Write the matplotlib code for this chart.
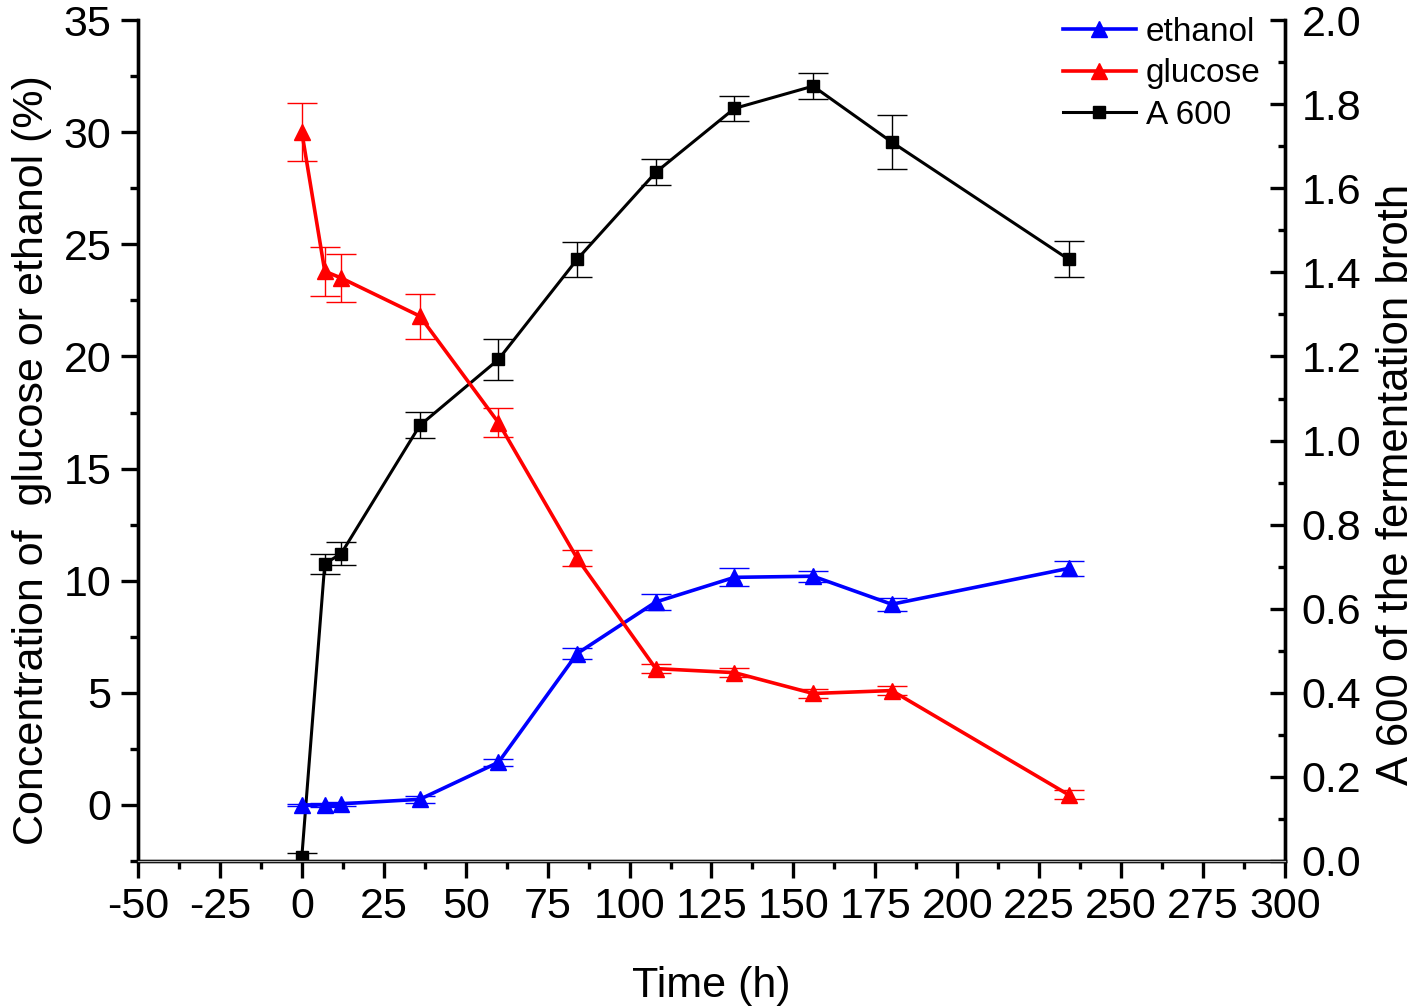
import matplotlib.pyplot as plt
from matplotlib.lines import Line2D
from matplotlib.ticker import MultipleLocator

plt.rcParams['font.family'] = ['Liberation Sans', 'DejaVu Sans']
plt.rcParams['axes.unicode_minus'] = False

# sampling times (h)
time = [0, 7, 12, 36, 60, 84, 108, 132, 156, 180, 234]

# concentration (%)
ethanol = [0.0, 0.0, 0.05, 0.25, 1.9, 6.75, 9.05, 10.15, 10.2, 8.95, 10.55]
ethanol_err = [0.05, 0.1, 0.1, 0.15, 0.15, 0.25, 0.35, 0.4, 0.25, 0.3, 0.33]
glucose = [30.0, 23.8, 23.5, 21.8, 17.05, 11.0, 6.08, 5.9, 4.97, 5.1, 0.45]
glucose_err = [1.3, 1.1, 1.05, 1.0, 0.65, 0.35, 0.2, 0.2, 0.2, 0.2, 0.2]

# A600 of the broth
a600 = [0.01, 0.707, 0.731, 1.036, 1.193, 1.431, 1.638, 1.79, 1.843, 1.71, 1.431]
a600_err = [0.01, 0.024, 0.027, 0.031, 0.048, 0.042, 0.031, 0.03, 0.031, 0.065, 0.043]

fig = plt.figure(figsize=(14.18, 10.07), dpi=100)
ax = fig.add_axes([0.0973, 0.145, 0.8089, 0.835])
ax2 = ax.twinx()
# keep the concentration curves above the A600 curve
ax.set_zorder(ax2.get_zorder() + 1)
ax.patch.set_visible(False)

ax2.errorbar(time, a600, yerr=a600_err, color='black', lw=2.2, marker='s', ms=8,
             ecolor='black', elinewidth=1.0, capsize=11, capthick=1.0)
ax.errorbar(time, ethanol, yerr=ethanol_err, color='#0000ff', lw=2.6, marker='^', ms=11,
            ecolor='#0000ff', elinewidth=1.0, capsize=11, capthick=1.0)
ax.errorbar(time, glucose, yerr=glucose_err, color='#ff0000', lw=2.6, marker='^', ms=11,
            ecolor='#ff0000', elinewidth=1.0, capsize=11, capthick=1.0)

ax.set_xlim(-50, 300)
ax.set_ylim(-2.5, 35)
ax2.set_ylim(0, 2.0)

ax.xaxis.set_major_locator(MultipleLocator(25))
ax.xaxis.set_minor_locator(MultipleLocator(12.5))
ax.yaxis.set_major_locator(MultipleLocator(5))
ax.yaxis.set_minor_locator(MultipleLocator(2.5))
ax2.yaxis.set_major_locator(MultipleLocator(0.2))
ax2.yaxis.set_minor_locator(MultipleLocator(0.1))
ax2.yaxis.set_major_formatter(plt.FormatStrFormatter('%.1f'))

for a in (ax, ax2):
    a.spines['top'].set_visible(False)
    for s in ('left', 'right', 'bottom'):
        a.spines[s].set_linewidth(2.4)

ax.tick_params(axis='both', which='major', direction='out', length=12, width=2.4,
               labelsize=31, pad=7)
ax.tick_params(axis='both', which='minor', direction='out', length=6, width=2.4)
ax.tick_params(axis='y', right=False)
ax2.tick_params(axis='y', which='major', direction='in', length=11, width=2.4,
                labelsize=31, pad=12)
ax2.tick_params(axis='y', which='minor', direction='in', length=5, width=2.4)

# thin grey line along the bottom frame
ax.axhline(-2.5, color='#b0b0b0', lw=0.9, zorder=5, clip_on=False)

ax.set_xlabel('Time (h)', fontsize=31, labelpad=28)
ax.set_ylabel('Concentration of  glucose or ethanol (%)', fontsize=31)
ax2.set_ylabel('A 600 of the fermentation broth', fontsize=31.5)
ax.yaxis.set_label_coords(-0.075, 0.477)
ax2.yaxis.set_label_coords(1.079, 0.448)

handles = [
    Line2D([], [], color='#0000ff', lw=2.6, marker='^', ms=11),
    Line2D([], [], color='#ff0000', lw=2.6, marker='^', ms=11),
    Line2D([], [], color='black', lw=2.2, marker='s', ms=8),
]
ax.legend(handles, ['ethanol', 'glucose', 'A 600'], loc='upper right',
          bbox_to_anchor=(1.005, 1.04), frameon=False, fontsize=24,
          handlelength=2.2, handletextpad=0.3, labelspacing=0.32)

fig.savefig('out.png', dpi=100)
